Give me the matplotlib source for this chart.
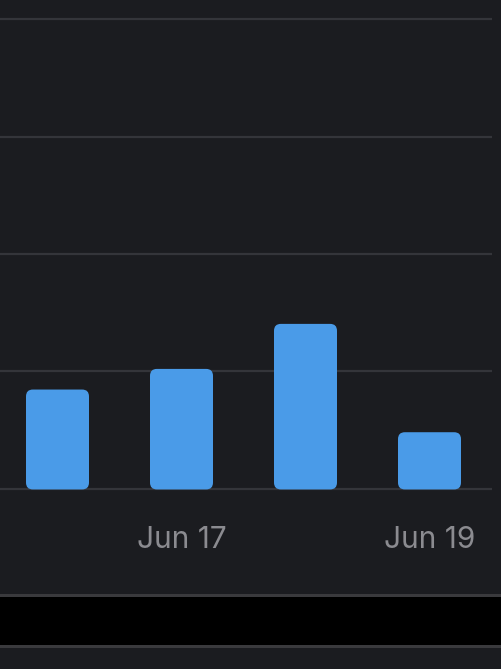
import matplotlib.pyplot as plt
from matplotlib.patches import FancyBboxPatch, Rectangle

days = ['Jun 16', 'Jun 17', 'Jun 18', 'Jun 19']
values = [21.1, 25.5, 35.1, 12.0]
tick_days = ['Jun 17', 'Jun 19']
grid_ticks = [0, 25, 50, 75, 100]

bg = '#1b1c20'
bar_color = '#4a9be8'
grid_color = '#34353a'
text_color = '#8b8b90'

W, H = 502, 669
fig = plt.figure(figsize=(W / 100, H / 100), dpi=100, facecolor=bg)

# axes: left edge at 0, right edge at 492px, bottom at 500px from top
ax = fig.add_axes([0, (H - 500) / H, 492 / W, 500 / H])
ax.set_facecolor(bg)

x = list(range(len(days)))
bars = ax.bar(x, values, width=0.508, color=bar_color)

# swap plain bars for rounded ones
for b in bars:
    b.set_visible(False)
    p = FancyBboxPatch((b.get_x(), b.get_y() - 0.2), b.get_width(), b.get_height() + 0.2,
                       boxstyle='round,pad=0,rounding_size=0.055',
                       mutation_aspect=26.6, fc=bar_color, ec='none', zorder=3)
    ax.add_patch(p)

ax.set_xlim(-57.5 / 124, (492 - 57.5) / 124)
ax.set_ylim(-(500 - 488.5) / 4.69, 100 + 19.5 / 4.69)

ax.set_yticks(grid_ticks)
ax.yaxis.grid(True, color=grid_color, linewidth=1.6)
ax.set_axisbelow(True)
ax.tick_params(axis='y', left=False, labelleft=False)

ax.set_xticks([days.index(d) for d in tick_days])
ax.set_xticklabels(tick_days, family=['Inter', 'DejaVu Sans'], fontsize=21.5, color=text_color)
ax.tick_params(axis='x', length=0, pad=19)

for s in ax.spines.values():
    s.set_visible(False)

# black strip at the bottom with thin grey edges
fig.patches.append(Rectangle((0, (H - 645) / H), 1, 48 / H, transform=fig.transFigure,
                             fc='#000000', ec='none'))
fig.patches.append(Rectangle((0, (H - 597) / H), 1, 3 / H, transform=fig.transFigure,
                             fc='#3a3a3d', ec='none'))
fig.patches.append(Rectangle((0, (H - 648) / H), 1, 3 / H, transform=fig.transFigure,
                             fc='#3a3a3d', ec='none'))

fig.savefig('out.png', dpi=100, facecolor=bg)
